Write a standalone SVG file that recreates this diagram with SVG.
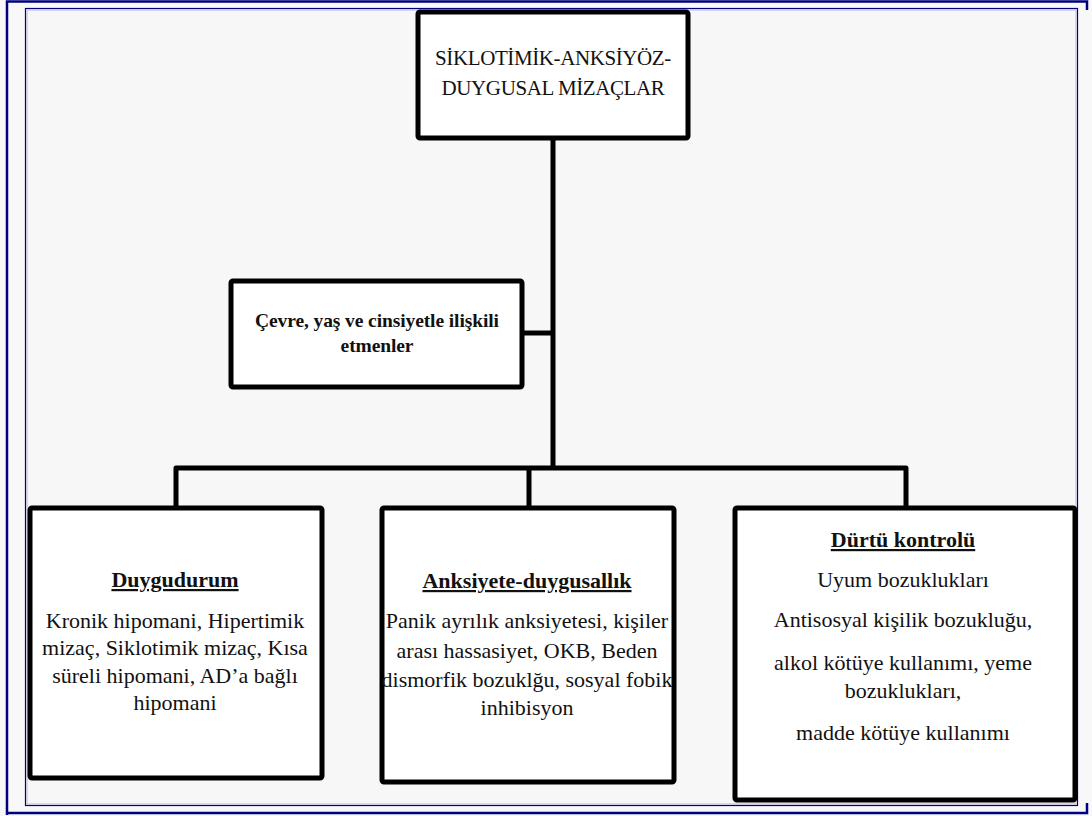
<svg xmlns="http://www.w3.org/2000/svg" width="1092" height="816" viewBox="0 0 1092 816">
<style>
.box{fill:#ffffff;stroke:#000;stroke-width:5;stroke-linejoin:round}
.conn{fill:none;stroke:#000;stroke-width:5;stroke-linejoin:round}
.t{font-family:"Liberation Serif","Times New Roman",serif;fill:#111;text-anchor:middle}
.title{font-size:21px;letter-spacing:-0.4px}
.small{font-size:19.5px;font-weight:bold;letter-spacing:-0.1px}
.head{font-size:22px;font-weight:bold;text-decoration:underline}
.body{font-size:22px}
</style>
<rect x="0" y="0" width="1092" height="816" fill="#f8f8f8"/>
<g id="frame">
<path d="M7,815 V1.5 H1087 V10 M7,813 H1087 V803" fill="none" stroke="#00007f" stroke-width="2.5"/>
<rect x="25.5" y="8.5" width="1052" height="797" fill="#f7f7f7" stroke="#000080" stroke-width="1.2"/>
<rect x="27" y="10" width="1049" height="794" fill="none" stroke="#c0c0e8" stroke-width="1.2"/>
</g>
<g id="connectors">
<path class="conn" d="M553,138 V468"/>
<path class="conn" d="M522,333 H553"/>
<path class="conn" d="M176,508 V468 H906 V508"/>
<path class="conn" d="M529,468 V508"/>
</g>
<g id="node-top">
<rect class="box" x="418" y="12" width="270" height="126" rx="2"/>
<text class="t title" x="553" y="65">SİKLOTİMİK-ANKSİYÖZ-</text>
<text class="t title" x="553" y="95">DUYGUSAL MİZAÇLAR</text>
</g>
<g id="node-env">
<rect class="box" x="231" y="281" width="291" height="106" rx="2"/>
<text class="t small" x="377" y="327">Çevre, yaş ve cinsiyetle ilişkili</text>
<text class="t small" x="377" y="352">etmenler</text>
</g>
<g id="node-duygudurum">
<rect class="box" x="30" y="508" width="292" height="270" rx="2"/>
<text class="t head" x="175" y="587">Duygudurum</text>
<text class="t body" x="175" y="628">Kronik hipomani, Hipertimik</text>
<text class="t body" x="175" y="655">mizaç, Siklotimik mizaç, Kısa</text>
<text class="t body" x="175" y="683">süreli hipomani, AD’a bağlı</text>
<text class="t body" x="175" y="710">hipomani</text>
</g>
<g id="node-anksiyete">
<rect class="box" x="382" y="508" width="292" height="274" rx="2"/>
<text class="t head" x="527" y="588">Anksiyete-duygusallık</text>
<text class="t body" x="527" y="628">Panik ayrılık anksiyetesi, kişiler</text>
<text class="t body" x="527" y="658">arası hassasiyet, OKB, Beden</text>
<text class="t body" x="527" y="687">dismorfik bozuklğu, sosyal fobik</text>
<text class="t body" x="527" y="715">inhibisyon</text>
</g>
<g id="node-durtu">
<rect class="box" x="735" y="508" width="340" height="292" rx="2"/>
<text class="t head" x="903" y="547">Dürtü kontrolü</text>
<text class="t body" x="903" y="587">Uyum bozuklukları</text>
<text class="t body" x="903" y="627">Antisosyal kişilik bozukluğu,</text>
<text class="t body" x="903" y="670">alkol kötüye kullanımı, yeme</text>
<text class="t body" x="903" y="698">bozuklukları,</text>
<text class="t body" x="903" y="740">madde kötüye kullanımı</text>
</g>
</svg>
